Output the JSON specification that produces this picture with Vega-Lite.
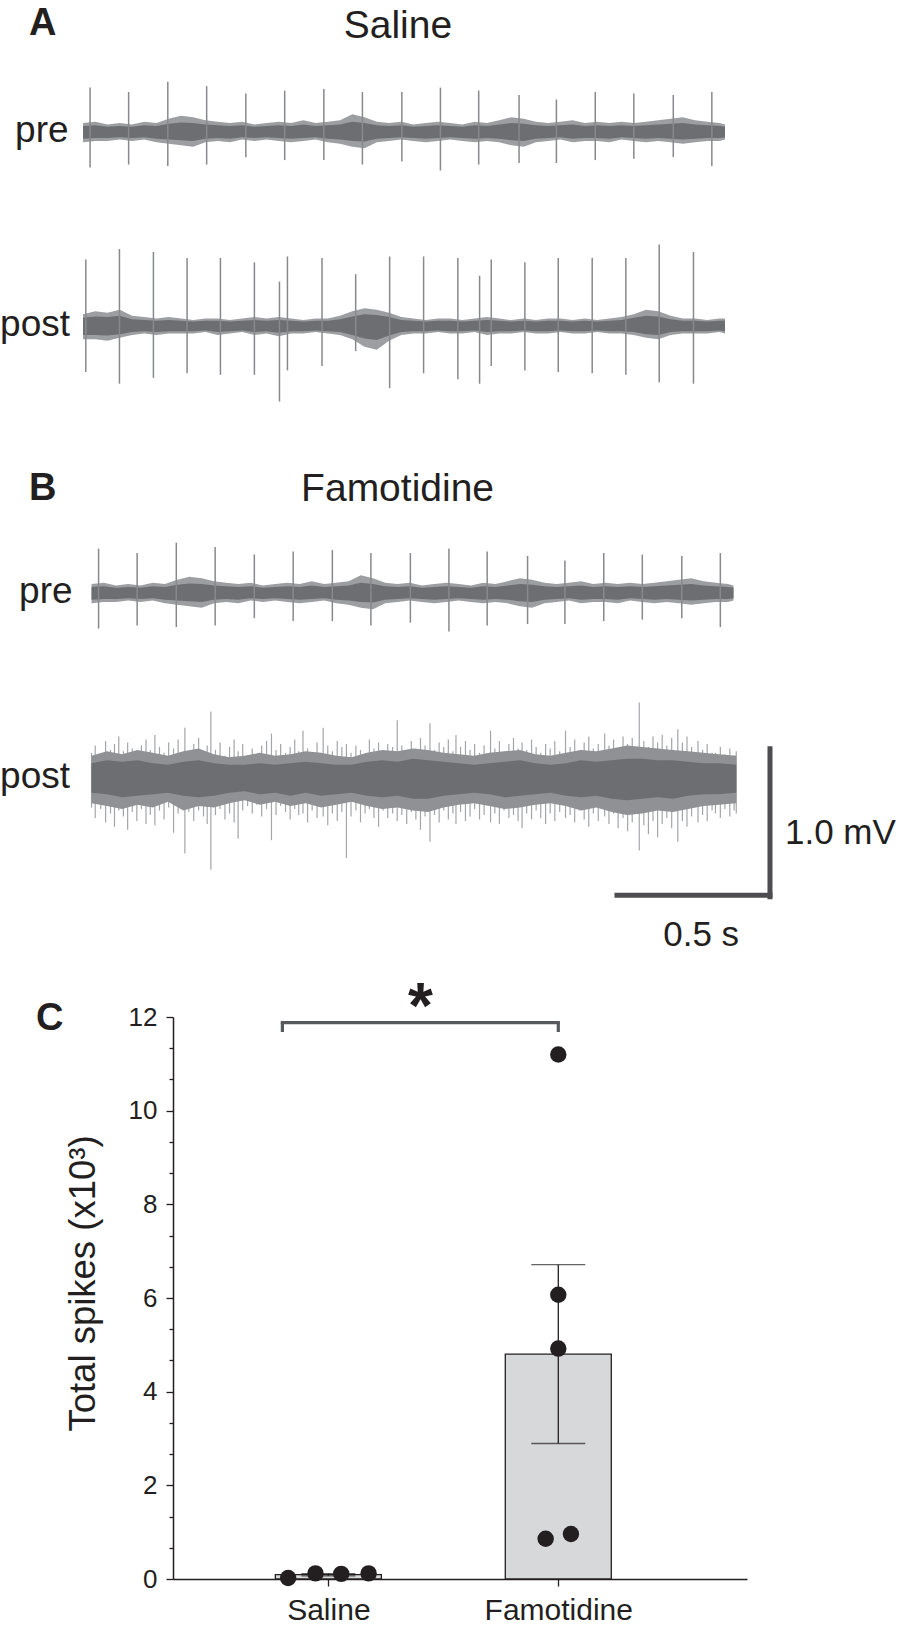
{
  "$schema": "https://vega.github.io/schema/vega-lite/v6.json",
  "padding": 0,
  "autosize": {"type": "pad"},
  "background": "white",
  "spacing": 0,
  "bounds": "flush",
  "config": {"view": {"stroke": null}, "font": "Liberation Sans", "text": {"color": "#231f20", "font": "Liberation Sans"}},
  "datasets": {
    "salinePreSpikes": [
      {"t":0.023,"hi":0.30,"lo":-0.24},{"t":0.149,"hi":0.27,"lo":-0.22},{"t":0.277,"hi":0.34,"lo":-0.23},{"t":0.404,"hi":0.31,"lo":-0.22},
      {"t":0.532,"hi":0.26,"lo":-0.17},{"t":0.659,"hi":0.28,"lo":-0.19},{"t":0.787,"hi":0.29,"lo":-0.19},{"t":0.913,"hi":0.27,"lo":-0.22},
      {"t":1.042,"hi":0.27,"lo":-0.20},{"t":1.168,"hi":0.30,"lo":-0.26},{"t":1.293,"hi":0.28,"lo":-0.22},{"t":1.425,"hi":0.25,"lo":-0.21},
      {"t":1.547,"hi":0.22,"lo":-0.21},{"t":1.674,"hi":0.27,"lo":-0.19},{"t":1.800,"hi":0.26,"lo":-0.18},{"t":1.929,"hi":0.25,"lo":-0.17},
      {"t":2.055,"hi":0.27,"lo":-0.23}
    ],
    "salinePostSpikes": [
      {"t":0.009,"hi":0.45,"lo":-0.31},{"t":0.119,"hi":0.52,"lo":-0.39},{"t":0.230,"hi":0.50,"lo":-0.35},{"t":0.340,"hi":0.46,"lo":-0.32},
      {"t":0.449,"hi":0.46,"lo":-0.33},{"t":0.560,"hi":0.43,"lo":-0.33},{"t":0.642,"hi":0.30,"lo":-0.51},{"t":0.668,"hi":0.47,"lo":-0.30},
      {"t":0.781,"hi":0.46,"lo":-0.27},{"t":0.891,"hi":0.35,"lo":-0.17},{"t":1.002,"hi":0.47,"lo":-0.42},{"t":1.113,"hi":0.47,"lo":-0.32},
      {"t":1.225,"hi":0.46,"lo":-0.36},{"t":1.296,"hi":0.34,"lo":-0.39},{"t":1.334,"hi":0.45,"lo":-0.27},{"t":1.444,"hi":0.43,"lo":-0.30},
      {"t":1.553,"hi":0.46,"lo":-0.31},{"t":1.664,"hi":0.46,"lo":-0.32},{"t":1.774,"hi":0.46,"lo":-0.33},{"t":1.883,"hi":0.55,"lo":-0.38},
      {"t":1.995,"hi":0.50,"lo":-0.39}
    ],
    "salinePreNoise": [
      {"t":0,"hi":0.06,"lo":-0.07,"ihi":0.04,"ilo":-0.045},{"t":0.04,"hi":0.07,"lo":-0.06,"ihi":0.045,"ilo":-0.04},
      {"t":0.08,"hi":0.05,"lo":-0.06,"ihi":0.035,"ilo":-0.04},{"t":0.12,"hi":0.06,"lo":-0.05,"ihi":0.04,"ilo":-0.035},
      {"t":0.16,"hi":0.05,"lo":-0.06,"ihi":0.035,"ilo":-0.04},{"t":0.20,"hi":0.07,"lo":-0.05,"ihi":0.045,"ilo":-0.035},
      {"t":0.24,"hi":0.06,"lo":-0.07,"ihi":0.04,"ilo":-0.045},{"t":0.28,"hi":0.09,"lo":-0.08,"ihi":0.055,"ilo":-0.05},
      {"t":0.32,"hi":0.11,"lo":-0.09,"ihi":0.065,"ilo":-0.055},{"t":0.36,"hi":0.10,"lo":-0.10,"ihi":0.06,"ilo":-0.06},
      {"t":0.40,"hi":0.08,"lo":-0.07,"ihi":0.05,"ilo":-0.045},{"t":0.44,"hi":0.07,"lo":-0.06,"ihi":0.045,"ilo":-0.04},
      {"t":0.48,"hi":0.06,"lo":-0.07,"ihi":0.04,"ilo":-0.045},{"t":0.52,"hi":0.07,"lo":-0.05,"ihi":0.045,"ilo":-0.035},
      {"t":0.56,"hi":0.05,"lo":-0.06,"ihi":0.035,"ilo":-0.04},{"t":0.60,"hi":0.06,"lo":-0.05,"ihi":0.04,"ilo":-0.035},
      {"t":0.64,"hi":0.07,"lo":-0.06,"ihi":0.045,"ilo":-0.04},{"t":0.68,"hi":0.06,"lo":-0.07,"ihi":0.04,"ilo":-0.045},
      {"t":0.72,"hi":0.08,"lo":-0.06,"ihi":0.05,"ilo":-0.04},{"t":0.76,"hi":0.06,"lo":-0.05,"ihi":0.04,"ilo":-0.035},
      {"t":0.80,"hi":0.07,"lo":-0.07,"ihi":0.045,"ilo":-0.045},{"t":0.84,"hi":0.08,"lo":-0.08,"ihi":0.05,"ilo":-0.05},
      {"t":0.88,"hi":0.12,"lo":-0.10,"ihi":0.07,"ilo":-0.06},{"t":0.92,"hi":0.10,"lo":-0.11,"ihi":0.06,"ilo":-0.065},
      {"t":0.96,"hi":0.07,"lo":-0.07,"ihi":0.045,"ilo":-0.045},{"t":1.00,"hi":0.06,"lo":-0.06,"ihi":0.04,"ilo":-0.04},
      {"t":1.04,"hi":0.07,"lo":-0.05,"ihi":0.045,"ilo":-0.035},{"t":1.08,"hi":0.05,"lo":-0.06,"ihi":0.035,"ilo":-0.04},
      {"t":1.12,"hi":0.06,"lo":-0.07,"ihi":0.04,"ilo":-0.045},{"t":1.16,"hi":0.07,"lo":-0.06,"ihi":0.045,"ilo":-0.04},
      {"t":1.20,"hi":0.06,"lo":-0.05,"ihi":0.04,"ilo":-0.035},{"t":1.24,"hi":0.05,"lo":-0.06,"ihi":0.035,"ilo":-0.04},
      {"t":1.28,"hi":0.07,"lo":-0.07,"ihi":0.045,"ilo":-0.045},{"t":1.32,"hi":0.06,"lo":-0.06,"ihi":0.04,"ilo":-0.04},
      {"t":1.36,"hi":0.08,"lo":-0.07,"ihi":0.05,"ilo":-0.045},{"t":1.40,"hi":0.10,"lo":-0.09,"ihi":0.06,"ilo":-0.055},
      {"t":1.44,"hi":0.09,"lo":-0.10,"ihi":0.055,"ilo":-0.06},{"t":1.48,"hi":0.07,"lo":-0.07,"ihi":0.045,"ilo":-0.045},
      {"t":1.52,"hi":0.06,"lo":-0.06,"ihi":0.04,"ilo":-0.04},{"t":1.56,"hi":0.07,"lo":-0.05,"ihi":0.045,"ilo":-0.035},
      {"t":1.60,"hi":0.08,"lo":-0.07,"ihi":0.05,"ilo":-0.045},{"t":1.64,"hi":0.06,"lo":-0.06,"ihi":0.04,"ilo":-0.04},
      {"t":1.68,"hi":0.07,"lo":-0.06,"ihi":0.045,"ilo":-0.04},{"t":1.72,"hi":0.06,"lo":-0.07,"ihi":0.04,"ilo":-0.045},
      {"t":1.76,"hi":0.07,"lo":-0.05,"ihi":0.045,"ilo":-0.035},{"t":1.80,"hi":0.06,"lo":-0.06,"ihi":0.04,"ilo":-0.04},
      {"t":1.84,"hi":0.07,"lo":-0.07,"ihi":0.045,"ilo":-0.045},{"t":1.88,"hi":0.08,"lo":-0.06,"ihi":0.05,"ilo":-0.04},
      {"t":1.92,"hi":0.09,"lo":-0.07,"ihi":0.055,"ilo":-0.045},{"t":1.96,"hi":0.10,"lo":-0.08,"ihi":0.06,"ilo":-0.05},
      {"t":2.00,"hi":0.08,"lo":-0.07,"ihi":0.05,"ilo":-0.045},{"t":2.04,"hi":0.07,"lo":-0.06,"ihi":0.045,"ilo":-0.04},
      {"t":2.08,"hi":0.06,"lo":-0.06,"ihi":0.04,"ilo":-0.04},{"t":2.098,"hi":0.05,"lo":-0.05,"ihi":0.035,"ilo":-0.035}
    ],
    "salinePostNoise": [
      {"t":0,"hi":0.08,"lo":-0.09,"ihi":0.055,"ilo":-0.06},{"t":0.04,"hi":0.10,"lo":-0.09,"ihi":0.065,"ilo":-0.06},
      {"t":0.08,"hi":0.09,"lo":-0.10,"ihi":0.06,"ilo":-0.065},{"t":0.12,"hi":0.11,"lo":-0.08,"ihi":0.07,"ilo":-0.055},
      {"t":0.16,"hi":0.07,"lo":-0.06,"ihi":0.045,"ilo":-0.04},{"t":0.20,"hi":0.06,"lo":-0.05,"ihi":0.04,"ilo":-0.035},
      {"t":0.24,"hi":0.05,"lo":-0.06,"ihi":0.035,"ilo":-0.04},{"t":0.28,"hi":0.06,"lo":-0.05,"ihi":0.04,"ilo":-0.035},
      {"t":0.32,"hi":0.05,"lo":-0.05,"ihi":0.035,"ilo":-0.035},{"t":0.36,"hi":0.04,"lo":-0.05,"ihi":0.03,"ilo":-0.035},
      {"t":0.40,"hi":0.05,"lo":-0.04,"ihi":0.035,"ilo":-0.03},{"t":0.44,"hi":0.05,"lo":-0.06,"ihi":0.035,"ilo":-0.04},
      {"t":0.48,"hi":0.04,"lo":-0.05,"ihi":0.03,"ilo":-0.035},{"t":0.52,"hi":0.05,"lo":-0.04,"ihi":0.035,"ilo":-0.03},
      {"t":0.56,"hi":0.06,"lo":-0.06,"ihi":0.04,"ilo":-0.04},{"t":0.60,"hi":0.05,"lo":-0.05,"ihi":0.035,"ilo":-0.035},
      {"t":0.64,"hi":0.06,"lo":-0.07,"ihi":0.04,"ilo":-0.045},{"t":0.68,"hi":0.05,"lo":-0.05,"ihi":0.035,"ilo":-0.035},
      {"t":0.72,"hi":0.04,"lo":-0.05,"ihi":0.03,"ilo":-0.035},{"t":0.76,"hi":0.05,"lo":-0.04,"ihi":0.035,"ilo":-0.03},
      {"t":0.80,"hi":0.05,"lo":-0.05,"ihi":0.035,"ilo":-0.035},{"t":0.84,"hi":0.07,"lo":-0.06,"ihi":0.045,"ilo":-0.04},
      {"t":0.88,"hi":0.10,"lo":-0.09,"ihi":0.065,"ilo":-0.06},{"t":0.92,"hi":0.12,"lo":-0.14,"ihi":0.08,"ilo":-0.085},
      {"t":0.96,"hi":0.11,"lo":-0.16,"ihi":0.075,"ilo":-0.095},{"t":1.00,"hi":0.09,"lo":-0.10,"ihi":0.06,"ilo":-0.065},
      {"t":1.04,"hi":0.06,"lo":-0.06,"ihi":0.04,"ilo":-0.04},{"t":1.08,"hi":0.05,"lo":-0.05,"ihi":0.035,"ilo":-0.035},
      {"t":1.12,"hi":0.04,"lo":-0.05,"ihi":0.03,"ilo":-0.035},{"t":1.16,"hi":0.05,"lo":-0.04,"ihi":0.035,"ilo":-0.03},
      {"t":1.20,"hi":0.05,"lo":-0.05,"ihi":0.035,"ilo":-0.035},{"t":1.24,"hi":0.04,"lo":-0.05,"ihi":0.03,"ilo":-0.035},
      {"t":1.28,"hi":0.05,"lo":-0.04,"ihi":0.035,"ilo":-0.03},{"t":1.32,"hi":0.06,"lo":-0.06,"ihi":0.04,"ilo":-0.04},
      {"t":1.36,"hi":0.05,"lo":-0.05,"ihi":0.035,"ilo":-0.035},{"t":1.40,"hi":0.04,"lo":-0.05,"ihi":0.03,"ilo":-0.035},
      {"t":1.44,"hi":0.05,"lo":-0.04,"ihi":0.035,"ilo":-0.03},{"t":1.48,"hi":0.04,"lo":-0.05,"ihi":0.03,"ilo":-0.035},
      {"t":1.52,"hi":0.05,"lo":-0.05,"ihi":0.035,"ilo":-0.035},{"t":1.56,"hi":0.05,"lo":-0.04,"ihi":0.035,"ilo":-0.03},
      {"t":1.60,"hi":0.04,"lo":-0.05,"ihi":0.03,"ilo":-0.035},{"t":1.64,"hi":0.05,"lo":-0.05,"ihi":0.035,"ilo":-0.035},
      {"t":1.68,"hi":0.04,"lo":-0.04,"ihi":0.03,"ilo":-0.03},{"t":1.72,"hi":0.05,"lo":-0.05,"ihi":0.035,"ilo":-0.035},
      {"t":1.76,"hi":0.06,"lo":-0.05,"ihi":0.04,"ilo":-0.035},{"t":1.80,"hi":0.08,"lo":-0.06,"ihi":0.055,"ilo":-0.04},
      {"t":1.84,"hi":0.11,"lo":-0.08,"ihi":0.07,"ilo":-0.055},{"t":1.88,"hi":0.10,"lo":-0.09,"ihi":0.065,"ilo":-0.06},
      {"t":1.92,"hi":0.07,"lo":-0.06,"ihi":0.045,"ilo":-0.04},{"t":1.96,"hi":0.05,"lo":-0.05,"ihi":0.035,"ilo":-0.035},
      {"t":2.00,"hi":0.05,"lo":-0.05,"ihi":0.035,"ilo":-0.035},{"t":2.04,"hi":0.04,"lo":-0.05,"ihi":0.03,"ilo":-0.035},
      {"t":2.08,"hi":0.05,"lo":-0.04,"ihi":0.035,"ilo":-0.03},{"t":2.098,"hi":0.05,"lo":-0.05,"ihi":0.035,"ilo":-0.035}
    ],
    "famPostNoise": [
      {"t":0,"hi":0.15,"lo":-0.17,"ihi":0.10,"ilo":-0.10},{"t":0.05,"hi":0.18,"lo":-0.19,"ihi":0.12,"ilo":-0.11},
      {"t":0.10,"hi":0.16,"lo":-0.21,"ihi":0.11,"ilo":-0.13},{"t":0.15,"hi":0.19,"lo":-0.18,"ihi":0.12,"ilo":-0.12},
      {"t":0.20,"hi":0.17,"lo":-0.20,"ihi":0.10,"ilo":-0.11},{"t":0.25,"hi":0.15,"lo":-0.16,"ihi":0.09,"ilo":-0.10},
      {"t":0.30,"hi":0.18,"lo":-0.22,"ihi":0.11,"ilo":-0.12},{"t":0.35,"hi":0.20,"lo":-0.19,"ihi":0.12,"ilo":-0.13},
      {"t":0.40,"hi":0.16,"lo":-0.20,"ihi":0.10,"ilo":-0.12},{"t":0.45,"hi":0.14,"lo":-0.17,"ihi":0.09,"ilo":-0.10},
      {"t":0.50,"hi":0.15,"lo":-0.15,"ihi":0.09,"ilo":-0.09},{"t":0.55,"hi":0.17,"lo":-0.18,"ihi":0.10,"ilo":-0.11},
      {"t":0.60,"hi":0.15,"lo":-0.16,"ihi":0.09,"ilo":-0.10},{"t":0.65,"hi":0.16,"lo":-0.19,"ihi":0.10,"ilo":-0.12},
      {"t":0.70,"hi":0.18,"lo":-0.17,"ihi":0.11,"ilo":-0.10},{"t":0.75,"hi":0.17,"lo":-0.20,"ihi":0.10,"ilo":-0.12},
      {"t":0.80,"hi":0.15,"lo":-0.18,"ihi":0.09,"ilo":-0.11},{"t":0.85,"hi":0.14,"lo":-0.16,"ihi":0.09,"ilo":-0.10},
      {"t":0.90,"hi":0.17,"lo":-0.19,"ihi":0.11,"ilo":-0.12},{"t":0.95,"hi":0.19,"lo":-0.21,"ihi":0.12,"ilo":-0.13},
      {"t":1.00,"hi":0.18,"lo":-0.20,"ihi":0.11,"ilo":-0.12},{"t":1.05,"hi":0.20,"lo":-0.22,"ihi":0.13,"ilo":-0.14},
      {"t":1.10,"hi":0.19,"lo":-0.23,"ihi":0.12,"ilo":-0.14},{"t":1.15,"hi":0.17,"lo":-0.20,"ihi":0.11,"ilo":-0.12},
      {"t":1.20,"hi":0.16,"lo":-0.18,"ihi":0.10,"ilo":-0.11},{"t":1.25,"hi":0.15,"lo":-0.17,"ihi":0.09,"ilo":-0.10},
      {"t":1.30,"hi":0.17,"lo":-0.19,"ihi":0.10,"ilo":-0.11},{"t":1.35,"hi":0.18,"lo":-0.21,"ihi":0.11,"ilo":-0.13},
      {"t":1.40,"hi":0.19,"lo":-0.20,"ihi":0.12,"ilo":-0.12},{"t":1.45,"hi":0.16,"lo":-0.18,"ihi":0.10,"ilo":-0.11},
      {"t":1.50,"hi":0.15,"lo":-0.17,"ihi":0.09,"ilo":-0.10},{"t":1.55,"hi":0.17,"lo":-0.19,"ihi":0.10,"ilo":-0.12},
      {"t":1.60,"hi":0.19,"lo":-0.22,"ihi":0.12,"ilo":-0.13},{"t":1.65,"hi":0.18,"lo":-0.20,"ihi":0.11,"ilo":-0.12},
      {"t":1.70,"hi":0.20,"lo":-0.23,"ihi":0.12,"ilo":-0.14},{"t":1.75,"hi":0.22,"lo":-0.25,"ihi":0.13,"ilo":-0.15},
      {"t":1.80,"hi":0.21,"lo":-0.24,"ihi":0.13,"ilo":-0.14},{"t":1.85,"hi":0.20,"lo":-0.22,"ihi":0.12,"ilo":-0.13},
      {"t":1.90,"hi":0.19,"lo":-0.23,"ihi":0.12,"ilo":-0.14},{"t":1.95,"hi":0.18,"lo":-0.21,"ihi":0.11,"ilo":-0.12},
      {"t":2.00,"hi":0.17,"lo":-0.19,"ihi":0.10,"ilo":-0.11},{"t":2.05,"hi":0.16,"lo":-0.18,"ihi":0.10,"ilo":-0.11},
      {"t":2.107,"hi":0.15,"lo":-0.17,"ihi":0.09,"ilo":-0.10}
    ],
    "famPostSpikes": [
      {"t":0.000,"hi":0.17,"lo":-0.20},{"t":0.012,"hi":0.22,"lo":-0.27},{"t":0.030,"hi":0.15,"lo":-0.21},{"t":0.046,"hi":0.25,"lo":-0.30},
      {"t":0.062,"hi":0.19,"lo":-0.24},{"t":0.075,"hi":0.23,"lo":-0.33},{"t":0.089,"hi":0.28,"lo":-0.22},{"t":0.104,"hi":0.18,"lo":-0.26},
      {"t":0.118,"hi":0.24,"lo":-0.35},{"t":0.133,"hi":0.20,"lo":-0.23},{"t":0.148,"hi":0.16,"lo":-0.29},{"t":0.163,"hi":0.22,"lo":-0.21},
      {"t":0.178,"hi":0.26,"lo":-0.31},{"t":0.192,"hi":0.19,"lo":-0.25},{"t":0.207,"hi":0.29,"lo":-0.32},{"t":0.222,"hi":0.21,"lo":-0.22},
      {"t":0.237,"hi":0.17,"lo":-0.28},{"t":0.252,"hi":0.24,"lo":-0.20},{"t":0.268,"hi":0.20,"lo":-0.37},{"t":0.283,"hi":0.26,"lo":-0.24},
      {"t":0.305,"hi":0.34,"lo":-0.51},{"t":0.318,"hi":0.18,"lo":-0.23},{"t":0.334,"hi":0.23,"lo":-0.29},{"t":0.350,"hi":0.27,"lo":-0.22},
      {"t":0.366,"hi":0.16,"lo":-0.26},{"t":0.378,"hi":0.22,"lo":-0.31},{"t":0.390,"hi":0.45,"lo":-0.62},{"t":0.405,"hi":0.19,"lo":-0.25},
      {"t":0.420,"hi":0.24,"lo":-0.21},{"t":0.436,"hi":0.15,"lo":-0.28},{"t":0.451,"hi":0.21,"lo":-0.24},{"t":0.466,"hi":0.26,"lo":-0.30},
      {"t":0.479,"hi":0.18,"lo":-0.41},{"t":0.494,"hi":0.23,"lo":-0.22},{"t":0.510,"hi":0.15,"lo":-0.19},{"t":0.525,"hi":0.20,"lo":-0.24},
      {"t":0.540,"hi":0.14,"lo":-0.18},{"t":0.556,"hi":0.22,"lo":-0.26},{"t":0.572,"hi":0.25,"lo":-0.21},{"t":0.588,"hi":0.30,"lo":-0.42},
      {"t":0.603,"hi":0.19,"lo":-0.25},{"t":0.618,"hi":0.23,"lo":-0.19},{"t":0.634,"hi":0.17,"lo":-0.23},{"t":0.649,"hi":0.21,"lo":-0.28},
      {"t":0.664,"hi":0.26,"lo":-0.21},{"t":0.677,"hi":0.18,"lo":-0.25},{"t":0.691,"hi":0.32,"lo":-0.24},{"t":0.706,"hi":0.20,"lo":-0.30},
      {"t":0.721,"hi":0.16,"lo":-0.22},{"t":0.737,"hi":0.24,"lo":-0.27},{"t":0.757,"hi":0.34,"lo":-0.26},{"t":0.772,"hi":0.22,"lo":-0.32},
      {"t":0.787,"hi":0.18,"lo":-0.24},{"t":0.803,"hi":0.25,"lo":-0.29},{"t":0.818,"hi":0.21,"lo":-0.23},{"t":0.833,"hi":0.23,"lo":-0.54},
      {"t":0.848,"hi":0.17,"lo":-0.26},{"t":0.864,"hi":0.22,"lo":-0.22},{"t":0.879,"hi":0.19,"lo":-0.30},{"t":0.894,"hi":0.15,"lo":-0.24},
      {"t":0.908,"hi":0.26,"lo":-0.21},{"t":0.923,"hi":0.20,"lo":-0.27},{"t":0.938,"hi":0.24,"lo":-0.33},{"t":0.953,"hi":0.18,"lo":-0.22},
      {"t":0.968,"hi":0.23,"lo":-0.27},{"t":0.984,"hi":0.21,"lo":-0.24},{"t":0.999,"hi":0.39,"lo":-0.29},{"t":1.014,"hi":0.22,"lo":-0.25},
      {"t":1.030,"hi":0.17,"lo":-0.31},{"t":1.045,"hi":0.25,"lo":-0.23},{"t":1.060,"hi":0.20,"lo":-0.28},{"t":1.075,"hi":0.27,"lo":-0.35},
      {"t":1.090,"hi":0.22,"lo":-0.26},{"t":1.106,"hi":0.37,"lo":-0.43},{"t":1.121,"hi":0.19,"lo":-0.25},{"t":1.136,"hi":0.24,"lo":-0.30},
      {"t":1.151,"hi":0.21,"lo":-0.22},{"t":1.166,"hi":0.26,"lo":-0.28},{"t":1.181,"hi":0.18,"lo":-0.24},{"t":1.191,"hi":0.29,"lo":-0.31},
      {"t":1.206,"hi":0.21,"lo":-0.23},{"t":1.222,"hi":0.25,"lo":-0.29},{"t":1.237,"hi":0.19,"lo":-0.26},{"t":1.252,"hi":0.23,"lo":-0.21},
      {"t":1.268,"hi":0.17,"lo":-0.28},{"t":1.283,"hi":0.22,"lo":-0.25},{"t":1.304,"hi":0.32,"lo":-0.30},{"t":1.318,"hi":0.20,"lo":-0.24},
      {"t":1.333,"hi":0.25,"lo":-0.31},{"t":1.348,"hi":0.18,"lo":-0.22},{"t":1.364,"hi":0.23,"lo":-0.27},{"t":1.379,"hi":0.27,"lo":-0.25},
      {"t":1.394,"hi":0.20,"lo":-0.29},{"t":1.407,"hi":0.24,"lo":-0.34},{"t":1.422,"hi":0.19,"lo":-0.24},{"t":1.438,"hi":0.26,"lo":-0.28},
      {"t":1.453,"hi":0.21,"lo":-0.22},{"t":1.468,"hi":0.17,"lo":-0.27},{"t":1.484,"hi":0.23,"lo":-0.31},{"t":1.499,"hi":0.20,"lo":-0.24},
      {"t":1.514,"hi":0.25,"lo":-0.29},{"t":1.530,"hi":0.18,"lo":-0.23},{"t":1.549,"hi":0.32,"lo":-0.27},{"t":1.564,"hi":0.21,"lo":-0.25},
      {"t":1.579,"hi":0.26,"lo":-0.30},{"t":1.594,"hi":0.19,"lo":-0.22},{"t":1.610,"hi":0.24,"lo":-0.28},{"t":1.625,"hi":0.28,"lo":-0.33},
      {"t":1.640,"hi":0.20,"lo":-0.24},{"t":1.656,"hi":0.23,"lo":-0.29},{"t":1.677,"hi":0.30,"lo":-0.26},{"t":1.691,"hi":0.22,"lo":-0.31},
      {"t":1.706,"hi":0.26,"lo":-0.24},{"t":1.721,"hi":0.19,"lo":-0.34},{"t":1.737,"hi":0.28,"lo":-0.27},{"t":1.752,"hi":0.23,"lo":-0.36},
      {"t":1.767,"hi":0.27,"lo":-0.30},{"t":1.790,"hi":0.51,"lo":-0.49},{"t":1.805,"hi":0.25,"lo":-0.32},{"t":1.820,"hi":0.21,"lo":-0.38},
      {"t":1.835,"hi":0.28,"lo":-0.29},{"t":1.850,"hi":0.24,"lo":-0.40},{"t":1.865,"hi":0.29,"lo":-0.31},{"t":1.880,"hi":0.22,"lo":-0.27},
      {"t":1.896,"hi":0.27,"lo":-0.34},{"t":1.916,"hi":0.33,"lo":-0.43},{"t":1.931,"hi":0.24,"lo":-0.29},{"t":1.946,"hi":0.28,"lo":-0.33},
      {"t":1.961,"hi":0.21,"lo":-0.26},{"t":1.982,"hi":0.25,"lo":-0.30},{"t":1.997,"hi":0.19,"lo":-0.25},{"t":2.012,"hi":0.23,"lo":-0.29},
      {"t":2.028,"hi":0.17,"lo":-0.22},{"t":2.039,"hi":0.17,"lo":-0.24},{"t":2.055,"hi":0.21,"lo":-0.27},{"t":2.070,"hi":0.16,"lo":-0.21},
      {"t":2.086,"hi":0.20,"lo":-0.26},{"t":2.100,"hi":0.15,"lo":-0.22},{"t":2.107,"hi":0.18,"lo":-0.24}
    ],
    "spikeCounts": [
      {"group":"Saline","pos":0,"xpos":-0.175,"spikes":0.02},
      {"group":"Saline","pos":0,"xpos":-0.056,"spikes":0.12},
      {"group":"Saline","pos":0,"xpos":0.056,"spikes":0.11},
      {"group":"Saline","pos":0,"xpos":0.175,"spikes":0.12},
      {"group":"Famotidine","pos":1,"xpos":1,"spikes":11.2},
      {"group":"Famotidine","pos":1,"xpos":1,"spikes":6.07},
      {"group":"Famotidine","pos":1,"xpos":1,"spikes":4.92},
      {"group":"Famotidine","pos":1,"xpos":0.945,"spikes":0.86},
      {"group":"Famotidine","pos":1,"xpos":1.055,"spikes":0.96}
    ]
  },
  "vconcat": [
    {
      "width": 731,
      "height": 1017,
      "layer": [
        {"data":{"name":"salinePreNoise"},"mark":{"type":"area","orient":"vertical","color":"#9c9ea1","yOffset":132,"y2Offset":132},
         "encoding":{"x":{"field":"t","type":"quantitative","scale":{"domain":[0.294,2.683],"nice":false,"zero":false},"axis":null},
                     "y":{"field":"hi","type":"quantitative","scale":{"domain":[-6.872,0],"nice":false,"zero":false},"axis":null},"y2":{"field":"lo"}}},
        {"data":{"name":"salinePreNoise"},"mark":{"type":"area","orient":"vertical","color":"#6d6e71","yOffset":132,"y2Offset":132},
         "encoding":{"x":{"field":"t","type":"quantitative","scale":{"domain":[0.294,2.683],"nice":false,"zero":false},"axis":null},
                     "y":{"field":"ihi","type":"quantitative","scale":{"domain":[-6.872,0],"nice":false,"zero":false},"axis":null},"y2":{"field":"ilo"}}},
        {"data":{"name":"salinePreSpikes"},"mark":{"type":"rule","color":"#87898c","strokeWidth":1.5,"yOffset":132,"y2Offset":132},
         "encoding":{"x":{"field":"t","type":"quantitative","scale":{"domain":[0.294,2.683],"nice":false,"zero":false},"axis":null},
                     "y":{"field":"hi","type":"quantitative","scale":{"domain":[-6.872,0],"nice":false,"zero":false},"axis":null},"y2":{"field":"lo"}}},

        {"data":{"name":"salinePostNoise"},"mark":{"type":"area","orient":"vertical","color":"#9c9ea1","yOffset":326,"y2Offset":326},
         "encoding":{"x":{"field":"t","type":"quantitative","scale":{"domain":[0.294,2.683],"nice":false,"zero":false},"axis":null},
                     "y":{"field":"hi","type":"quantitative","scale":{"domain":[-6.872,0],"nice":false,"zero":false},"axis":null},"y2":{"field":"lo"}}},
        {"data":{"name":"salinePostNoise"},"mark":{"type":"area","orient":"vertical","color":"#6d6e71","yOffset":326,"y2Offset":326},
         "encoding":{"x":{"field":"t","type":"quantitative","scale":{"domain":[0.294,2.683],"nice":false,"zero":false},"axis":null},
                     "y":{"field":"ihi","type":"quantitative","scale":{"domain":[-6.872,0],"nice":false,"zero":false},"axis":null},"y2":{"field":"ilo"}}},
        {"data":{"name":"salinePostSpikes"},"mark":{"type":"rule","color":"#87898c","strokeWidth":1.5,"yOffset":326,"y2Offset":326},
         "encoding":{"x":{"field":"t","type":"quantitative","scale":{"domain":[0.294,2.683],"nice":false,"zero":false},"axis":null},
                     "y":{"field":"hi","type":"quantitative","scale":{"domain":[-6.872,0],"nice":false,"zero":false},"axis":null},"y2":{"field":"lo"}}},

        {"data":{"name":"salinePreNoise"},"mark":{"type":"area","orient":"vertical","color":"#9c9ea1","xOffset":8.5,"yOffset":593,"y2Offset":593},
         "encoding":{"x":{"field":"t","type":"quantitative","scale":{"domain":[0.294,2.683],"nice":false,"zero":false},"axis":null},
                     "y":{"field":"hi","type":"quantitative","scale":{"domain":[-6.872,0],"nice":false,"zero":false},"axis":null},"y2":{"field":"lo"}}},
        {"data":{"name":"salinePreNoise"},"mark":{"type":"area","orient":"vertical","color":"#6d6e71","xOffset":8.5,"yOffset":593,"y2Offset":593},
         "encoding":{"x":{"field":"t","type":"quantitative","scale":{"domain":[0.294,2.683],"nice":false,"zero":false},"axis":null},
                     "y":{"field":"ihi","type":"quantitative","scale":{"domain":[-6.872,0],"nice":false,"zero":false},"axis":null},"y2":{"field":"ilo"}}},
        {"data":{"name":"salinePreSpikes"},"mark":{"type":"rule","color":"#87898c","strokeWidth":1.5,"xOffset":8.5,"yOffset":593,"y2Offset":593},
         "encoding":{"x":{"field":"t","type":"quantitative","scale":{"domain":[0.294,2.683],"nice":false,"zero":false},"axis":null},
                     "y":{"field":"hi","type":"quantitative","scale":{"domain":[-6.872,0],"nice":false,"zero":false},"axis":null},"y2":{"field":"lo"}}},

        {"data":{"name":"famPostSpikes"},"mark":{"type":"rule","color":"#a3a5a8","strokeWidth":1.2,"xOffset":8.5,"yOffset":778,"y2Offset":778},
         "encoding":{"x":{"field":"t","type":"quantitative","scale":{"domain":[0.294,2.683],"nice":false,"zero":false},"axis":null},
                     "y":{"field":"hi","type":"quantitative","scale":{"domain":[-6.872,0],"nice":false,"zero":false},"axis":null},"y2":{"field":"lo"}}},
        {"data":{"name":"famPostNoise"},"mark":{"type":"area","orient":"vertical","color":"#8f9194","xOffset":8.5,"yOffset":778,"y2Offset":778},
         "encoding":{"x":{"field":"t","type":"quantitative","scale":{"domain":[0.294,2.683],"nice":false,"zero":false},"axis":null},
                     "y":{"field":"hi","type":"quantitative","scale":{"domain":[-6.872,0],"nice":false,"zero":false},"axis":null},"y2":{"field":"lo"}}},
        {"data":{"name":"famPostNoise"},"mark":{"type":"area","orient":"vertical","color":"#6d6e71","xOffset":8.5,"yOffset":778,"y2Offset":778},
         "encoding":{"x":{"field":"t","type":"quantitative","scale":{"domain":[0.294,2.683],"nice":false,"zero":false},"axis":null},
                     "y":{"field":"ihi","type":"quantitative","scale":{"domain":[-6.872,0],"nice":false,"zero":false},"axis":null},"y2":{"field":"ilo"}}},

        {"data":{"values":[{}]},"mark":{"type":"rule","color":"#4d4d4f","strokeWidth":5,"strokeCap":"square"},
         "encoding":{"x":{"datum":2.245,"type":"quantitative","scale":{"domain":[0.294,2.683],"nice":false,"zero":false},"axis":null},
                     "y":{"datum":-5.06,"type":"quantitative","scale":{"domain":[-6.872,0],"nice":false,"zero":false},"axis":null},"y2":{"datum":-6.06}}},
        {"data":{"values":[{}]},"mark":{"type":"rule","color":"#4d4d4f","strokeWidth":5,"strokeCap":"square"},
         "encoding":{"x":{"datum":1.745,"type":"quantitative","scale":{"domain":[0.294,2.683],"nice":false,"zero":false},"axis":null},"x2":{"datum":2.245},
                     "y":{"datum":-6.05,"type":"quantitative","scale":{"domain":[-6.872,0],"nice":false,"zero":false},"axis":null}}},

        {"data":{"values":[{}]},"mark":{"type":"text","text":"A","fontSize":38,"fontWeight":"bold","align":"center","baseline":"alphabetic"},
         "encoding":{"x":{"datum":-0.132,"type":"quantitative","scale":{"domain":[0.294,2.683],"nice":false,"zero":false},"axis":null},
                     "y":{"datum":-0.2365,"type":"quantitative","scale":{"domain":[-6.872,0],"nice":false,"zero":false},"axis":null}}},
        {"data":{"values":[{}]},"mark":{"type":"text","text":"B","fontSize":38,"fontWeight":"bold","align":"center","baseline":"alphabetic"},
         "encoding":{"x":{"datum":-0.132,"type":"quantitative","scale":{"domain":[0.294,2.683],"nice":false,"zero":false},"axis":null},
                     "y":{"datum":-3.378,"type":"quantitative","scale":{"domain":[-6.872,0],"nice":false,"zero":false},"axis":null}}},
        {"data":{"values":[{}]},"mark":{"type":"text","text":"Saline","fontSize":39,"align":"center","baseline":"alphabetic"},
         "encoding":{"x":{"datum":1.029,"type":"quantitative","scale":{"domain":[0.294,2.683],"nice":false,"zero":false},"axis":null},
                     "y":{"datum":-0.257,"type":"quantitative","scale":{"domain":[-6.872,0],"nice":false,"zero":false},"axis":null}}},
        {"data":{"values":[{}]},"mark":{"type":"text","text":"Famotidine","fontSize":39,"align":"center","baseline":"alphabetic"},
         "encoding":{"x":{"datum":1.028,"type":"quantitative","scale":{"domain":[0.294,2.683],"nice":false,"zero":false},"axis":null},
                     "y":{"datum":-3.385,"type":"quantitative","scale":{"domain":[-6.872,0],"nice":false,"zero":false},"axis":null}}},
        {"data":{"values":[{}]},"mark":{"type":"text","text":"pre","fontSize":37,"align":"left","baseline":"alphabetic"},
         "encoding":{"x":{"datum":-0.222,"type":"quantitative","scale":{"domain":[0.294,2.683],"nice":false,"zero":false},"axis":null},
                     "y":{"datum":-0.958,"type":"quantitative","scale":{"domain":[-6.872,0],"nice":false,"zero":false},"axis":null}}},
        {"data":{"values":[{}]},"mark":{"type":"text","text":"post","fontSize":37,"align":"left","baseline":"alphabetic"},
         "encoding":{"x":{"datum":-0.271,"type":"quantitative","scale":{"domain":[0.294,2.683],"nice":false,"zero":false},"axis":null},
                     "y":{"datum":-2.269,"type":"quantitative","scale":{"domain":[-6.872,0],"nice":false,"zero":false},"axis":null}}},
        {"data":{"values":[{}]},"mark":{"type":"text","text":"pre","fontSize":37,"align":"left","baseline":"alphabetic"},
         "encoding":{"x":{"datum":-0.209,"type":"quantitative","scale":{"domain":[0.294,2.683],"nice":false,"zero":false},"axis":null},
                     "y":{"datum":-4.073,"type":"quantitative","scale":{"domain":[-6.872,0],"nice":false,"zero":false},"axis":null}}},
        {"data":{"values":[{}]},"mark":{"type":"text","text":"post","fontSize":37,"align":"left","baseline":"alphabetic"},
         "encoding":{"x":{"datum":-0.271,"type":"quantitative","scale":{"domain":[0.294,2.683],"nice":false,"zero":false},"axis":null},
                     "y":{"datum":-5.323,"type":"quantitative","scale":{"domain":[-6.872,0],"nice":false,"zero":false},"axis":null}}},
        {"data":{"values":[{}]},"mark":{"type":"text","text":"1.0 mV","fontSize":35,"align":"left","baseline":"alphabetic"},
         "encoding":{"x":{"datum":2.294,"type":"quantitative","scale":{"domain":[0.294,2.683],"nice":false,"zero":false},"axis":null},
                     "y":{"datum":-5.706,"type":"quantitative","scale":{"domain":[-6.872,0],"nice":false,"zero":false},"axis":null}}},
        {"data":{"values":[{}]},"mark":{"type":"text","text":"0.5 s","fontSize":35,"align":"center","baseline":"alphabetic"},
         "encoding":{"x":{"datum":2.020,"type":"quantitative","scale":{"domain":[0.294,2.683],"nice":false,"zero":false},"axis":null},
                     "y":{"datum":-6.389,"type":"quantitative","scale":{"domain":[-6.872,0],"nice":false,"zero":false},"axis":null}}}
      ]
    },
    {
      "width": 574,
      "height": 562,
      "resolve": {"axis": {"y": "independent", "x": "independent"}},
      "layer": [
        {"data":{"name":"spikeCounts"},
         "mark":{"type":"bar","orient":"vertical","width":106,"fill":"#d7d8da","stroke":"#231f20","strokeWidth":1.3},
         "encoding":{
           "x":{"field":"pos","type":"quantitative","scale":{"domain":[-0.654,1.799],"nice":false,"zero":false},
                "axis":{"orient":"bottom","values":[0,1],"labelExpr":"datum.value == 0 ? 'Saline' : 'Famotidine'","title":null,"grid":false,
                        "domainColor":"#231f20","domainWidth":1.5,"tickColor":"#231f20","tickWidth":1.3,"tickSize":7,
                        "labelFontSize":30,"labelColor":"#231f20","labelPadding":9,"labelFont":"Liberation Sans"}},
           "y":{"aggregate":"mean","field":"spikes","type":"quantitative","scale":{"domain":[0,12],"nice":false,"zero":true},
                "axis":{"orient":"left","values":[0,2,4,6,8,10,12],"format":"d","title":"Total spikes (x10³)","titleFontSize":36.5,"titleFontWeight":"normal",
                        "titleColor":"#231f20","titleFont":"Liberation Sans","titleX":-90,"titleY":266,"titleAngle":270,"titleBaseline":"middle","titleAlign":"center",
                        "grid":false,"domainColor":"#231f20","domainWidth":1.5,"tickColor":"#231f20","tickWidth":1.3,"tickSize":7,
                        "labelFontSize":26,"labelColor":"#231f20","labelPadding":9,"labelFont":"Liberation Sans"}}}},
        {"data":{"name":"spikeCounts"},
         "mark":{"type":"errorbar","extent":"stderr","orient":"vertical","color":"#231f20","thickness":1.3,"ticks":{"size":54,"thickness":1.3,"color":"#231f20"}},
         "encoding":{
           "x":{"field":"pos","type":"quantitative","scale":{"domain":[-0.654,1.799],"nice":false,"zero":false},"axis":null},
           "y":{"field":"spikes","type":"quantitative","scale":{"domain":[0,12],"nice":false,"zero":true},"axis":null}}},
        {"data":{"name":"spikeCounts"},
         "mark":{"type":"circle","size":270,"color":"#231f20","opacity":1},
         "encoding":{
           "x":{"field":"xpos","type":"quantitative","scale":{"domain":[-0.654,1.799],"nice":false,"zero":false},"axis":null},
           "y":{"field":"spikes","type":"quantitative","scale":{"domain":[0,12],"nice":false,"zero":true},
                "axis":{"orient":"left","values":[0.667,1.333,2.667,3.333,4.667,5.333,6.667,7.333,8.667,9.333,10.667,11.333],
                        "labels":false,"domain":false,"grid":false,"title":null,"tickSize":4,"tickWidth":1.3,"tickColor":"#231f20"}}}},
        {"data":{"values":[{}]},"mark":{"type":"rule","color":"#58595b","strokeWidth":3.2,"strokeCap":"square"},
         "encoding":{"x":{"datum":-0.2,"type":"quantitative","scale":{"domain":[-0.654,1.799],"nice":false,"zero":false},"axis":null},"x2":{"datum":1},
                     "y":{"datum":11.88,"type":"quantitative","scale":{"domain":[0,12],"nice":false,"zero":true},"axis":null}}},
        {"data":{"values":[{"end":-0.2},{"end":1}]},"mark":{"type":"rule","color":"#58595b","strokeWidth":3.2},
         "encoding":{"x":{"field":"end","type":"quantitative","scale":{"domain":[-0.654,1.799],"nice":false,"zero":false},"axis":null},
                     "y":{"datum":11.68,"type":"quantitative","scale":{"domain":[0,12],"nice":false,"zero":true},"axis":null},"y2":{"datum":11.88}}},
        {"data":{"values":[{}]},"mark":{"type":"text","text":"*","fontSize":64,"fontWeight":"bold","align":"center","baseline":"alphabetic"},
         "encoding":{"x":{"datum":0.40,"type":"quantitative","scale":{"domain":[-0.654,1.799],"nice":false,"zero":false},"axis":null},
                     "y":{"datum":11.77,"type":"quantitative","scale":{"domain":[0,12],"nice":false,"zero":true},"axis":null}}},
        {"data":{"values":[{}]},"mark":{"type":"text","text":"C","fontSize":38,"fontWeight":"bold","align":"center","baseline":"alphabetic"},
         "encoding":{"x":{"datum":-1.212,"type":"quantitative","scale":{"domain":[-0.654,1.799],"nice":false,"zero":false},"axis":null},
                     "y":{"datum":11.72,"type":"quantitative","scale":{"domain":[0,12],"nice":false,"zero":true},"axis":null}}}
      ]
    }
  ]
}
